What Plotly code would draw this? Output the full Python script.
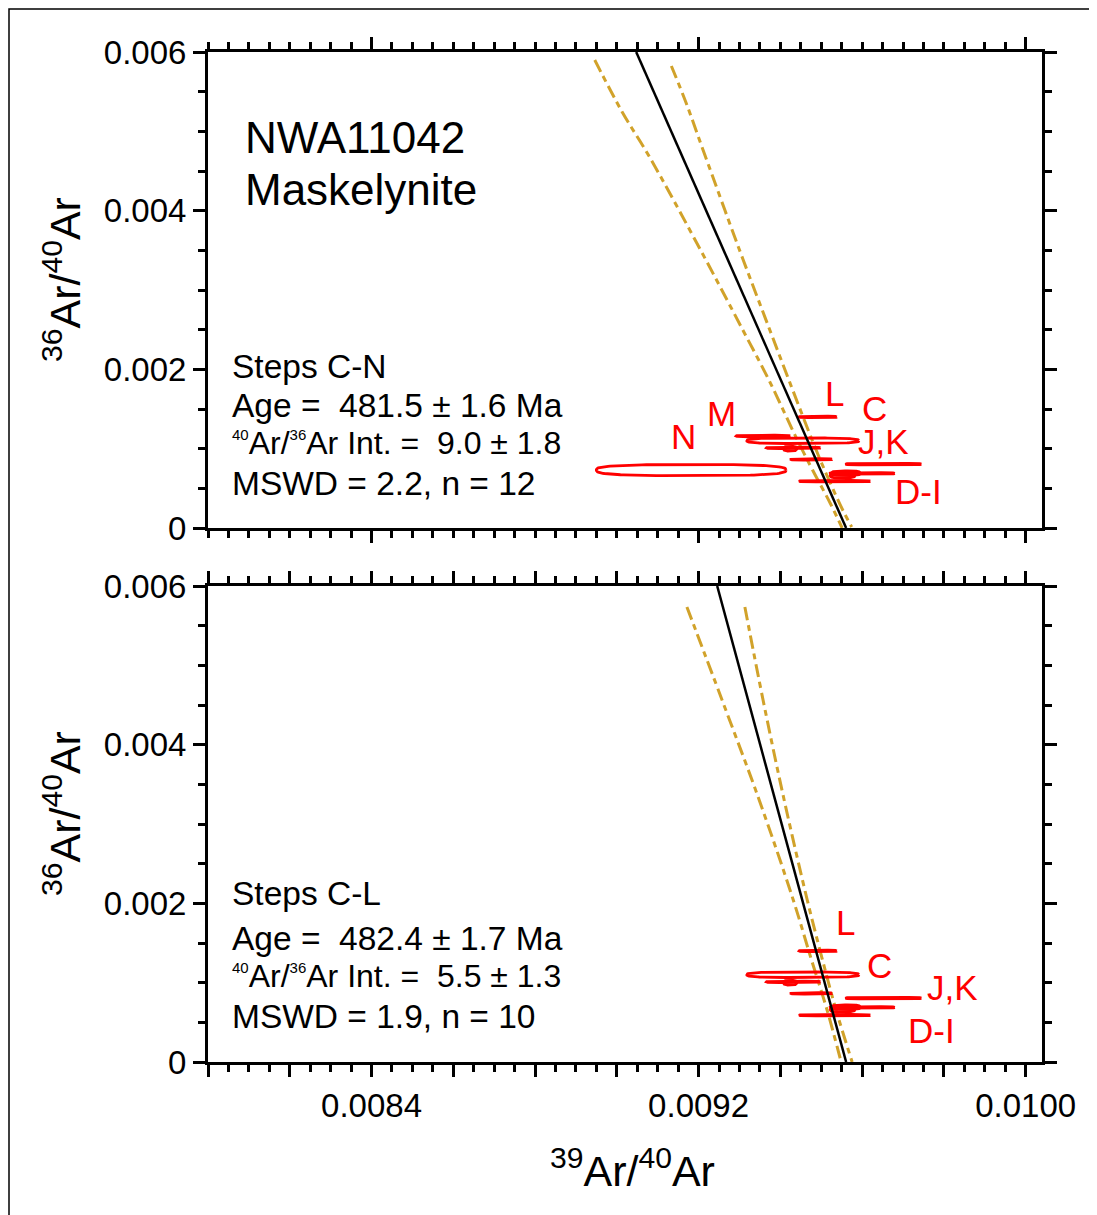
import numpy as np
import plotly.graph_objects as go

# ---------------- data ----------------
steps = ["C", "D", "E", "F", "G", "H", "I", "J", "K", "L", "M", "N"]
ell_x = [0.009455, 0.009560, 0.009552, 0.009533, 0.009600, 0.009476,
         0.009424, 0.009432, 0.009652, 0.009492, 0.009358, 0.009182]
ell_sx = [0.000137, 0.000035, 0.000030, 0.000087, 0.000080, 0.000050,
          0.000016, 0.000066, 0.000093, 0.000046, 0.000066, 0.000232]
ell_y = [0.001100, 0.000690, 0.000660, 0.000590, 0.000688, 0.000865,
         0.001000, 0.001010, 0.000805, 0.001400, 0.001160, 0.000730]
ell_sy = [0.000035, 0.000030, 0.000030, 0.000010, 0.000010, 0.000010,
          0.000030, 0.000010, 0.000010, 0.000010, 0.000010, 0.000070]
steps_bottom = ["C", "D", "E", "F", "G", "H", "I", "J", "K", "L"]

# isochron fit lines (endpoints)
fit1_x = [0.0090474, 0.0095609]
fit1_y = [0.0060, 0.0]
fit2_x = [0.0092455, 0.0095609]
fit2_y = [0.0060, 0.0]

# error envelopes
env1L_x = [0.0089460, 0.0090131, 0.0090799, 0.0092048, 0.0093082, 0.0093719,
           0.0094416, 0.0094788, 0.0095217, 0.0095511]
env1L_y = [0.005899, 0.005244, 0.004677, 0.003504, 0.002496, 0.001866,
           0.001109, 0.000731, 0.000315, 0.0]
env1R_x = [0.0091334, 0.0091696, 0.0092136, 0.0093001, 0.0093742, 0.0094208,
           0.0094845, 0.0095189, 0.0095525, 0.0095745]
env1R_y = [0.005824, 0.005357, 0.004727, 0.003504, 0.002496, 0.001866,
           0.001021, 0.000605, 0.000227, 0.0000126]
env2L_x = [0.0091714, 0.0092574, 0.0093482, 0.0094316, 0.0094762, 0.0095143, 0.0095487]
env2L_y = [0.005735, 0.004563, 0.003303, 0.002042, 0.001286, 0.000655, 0.0]
env2R_x = [0.0093132, 0.0093577, 0.0094093, 0.0094658, 0.0095031, 0.0095363, 0.0095756]
env2R_y = [0.005735, 0.004563, 0.003303, 0.002042, 0.001286, 0.000655, 0.0]

# point labels
lab1_text = ["L", "C", "J,K", "D-I", "N", "M"]
lab1_x = [0.0095315, 0.0096293, 0.0096513, 0.0097369, 0.0091623, 0.0092553]
lab1_y = [0.0017017, 0.0015126, 0.0010966, 0.0004664, 0.0011597, 0.0014496]
lab2_text = ["L", "C", "J,K", "D-I"]
lab2_x = [0.0095584, 0.0096416, 0.0098200, 0.0097687]
lab2_y = [0.0017647, 0.0012227, 0.000945, 0.000403]

# ticks
x_tick_vals = [0.0080, 0.0082, 0.0084, 0.0086, 0.0088, 0.0090,
               0.0092, 0.0094, 0.0096, 0.0098, 0.0100]
x_tick_text = ["", "", "0.0084", "", "", "", "0.0092", "", "", "", "0.0100"]
y_tick_vals = [0, 0.002, 0.004, 0.006]
y_tick_text = ["0", "0.002", "0.004", "0.006"]

SUP = "<sup><span style='font-size:15px'>{}</span></sup>"
INT = "<span style='font-size:32px'>{}</span>"
stats_top = ["Steps C-N",
             "Age =  481.5 ± 1.6 Ma",
             SUP.format("40") + INT.format("Ar/") + SUP.format("36")
             + INT.format("Ar Int. =  9.0 ± 1.8"),
             "MSWD = 2.2, n = 12"]
stats_bot = ["Steps C-L",
             "Age =  482.4 ± 1.7 Ma",
             SUP.format("40") + INT.format("Ar/") + SUP.format("36")
             + INT.format("Ar Int. =  5.5 ± 1.3"),
             "MSWD = 1.9, n = 10"]

# ---------------- figure ----------------
FONT = "Liberation Sans, Arial, sans-serif"
RED = "#FF0000"
GOLD = "#D1A22A"

OFF = 8  # page offset of the figure (body margin)
W, H = 1097, 1215
ML, MT = 208 - OFF, 52 - OFF
MR = W - (1042 - OFF)
MB = H - (1062 - OFF)
PW = W - ML - MR
PH = H - MT - MB


def px_x(p):
    return (p - OFF - ML) / PW


def px_y(p):
    return (H - MB - (p - OFF)) / PH


def ellipse_path(names, n=3.0):
    # superellipse outline (flat-sided, tapered like the original symbols)
    t = np.linspace(0, 2 * np.pi, 120)
    c, s = np.cos(t), np.sin(t)
    cx = np.sign(c) * np.abs(c) ** (2 / n)
    sy_ = np.sign(s) * np.abs(s) ** (2 / n)
    xs, ys = [], []
    for name in names:
        i = steps.index(name)
        xs += list(ell_x[i] + ell_sx[i] * cx) + [None]
        ys += list(ell_y[i] + ell_sy[i] * sy_) + [None]
    return xs, ys


fig = go.Figure()

for (xa, ya, names, fx, fy, lx, ly, rx, ry) in [
    ("x", "y", steps, fit1_x, fit1_y, env1L_x, env1L_y, env1R_x, env1R_y),
    ("x2", "y2", steps_bottom, fit2_x, fit2_y, env2L_x, env2L_y, env2R_x, env2R_y),
]:
    for ex, ey in [(lx, ly), (rx, ry)]:
        fig.add_trace(go.Scatter(x=ex, y=ey, mode="lines", xaxis=xa, yaxis=ya,
                                 line=dict(color=GOLD, width=3, dash="13px,5px,6px,5px",
                                           shape="spline"),
                                 showlegend=False, hoverinfo="skip"))
    exs, eys = ellipse_path(names)
    fig.add_trace(go.Scatter(x=exs, y=eys, mode="lines", xaxis=xa, yaxis=ya,
                             line=dict(color=RED, width=2.8),
                             showlegend=False, hoverinfo="skip"))
    fig.add_trace(go.Scatter(x=fx, y=fy, mode="lines", xaxis=xa, yaxis=ya,
                             line=dict(color="black", width=2.5),
                             showlegend=False, hoverinfo="skip"))

xcommon = dict(range=[0.0080, 0.01004], showgrid=False, zeroline=False,
               showline=True, linecolor="black", linewidth=3, mirror="ticks",
               ticks="outside", ticklen=12, tickwidth=2.5, tickcolor="black",
               tickvals=x_tick_vals, ticktext=x_tick_text,
               minor=dict(ticks="outside", ticklen=7, tickwidth=2.5,
                          tickcolor="black", dtick=0.00005, tick0=0.008,
                          showgrid=False),
               tickfont=dict(family=FONT, size=33, color="black"))
ycommon = dict(range=[0, 0.006], showgrid=False, zeroline=False,
               showline=True, linecolor="black", linewidth=3, mirror="ticks",
               ticks="outside", ticklen=12, tickwidth=2.5, tickcolor="black",
               tickvals=y_tick_vals, ticktext=y_tick_text,
               minor=dict(ticks="outside", ticklen=7, tickwidth=2.5,
                          tickcolor="black", dtick=0.0005, tick0=0,
                          showgrid=False),
               tickfont=dict(family=FONT, size=33, color="black"))

top_dom = [1 - 476 / PH, 1]
bot_dom = [0, 476 / PH]

fig.update_layout(
    width=W, height=H,
    margin=dict(l=ML, r=MR, t=MT, b=MB),
    paper_bgcolor="white", plot_bgcolor="white",
    font=dict(family=FONT, color="black"),
    xaxis=dict(xcommon, anchor="y", showticklabels=False),
    yaxis=dict(ycommon, anchor="x", domain=top_dom),
    xaxis2=dict(xcommon, anchor="y2", ticklabelstandoff=0),
    yaxis2=dict(ycommon, anchor="x2", domain=bot_dom),
)
fig.update_yaxes(ticklabelstandoff=0)

ann = []
# point labels
for t, x, y in zip(lab1_text, lab1_x, lab1_y):
    ann.append(dict(text=t, x=x, y=y, xref="x", yref="y", showarrow=False,
                    font=dict(family=FONT, size=35, color=RED)))
for t, x, y in zip(lab2_text, lab2_x, lab2_y):
    ann.append(dict(text=t, x=x, y=y, xref="x2", yref="y2", showarrow=False,
                    font=dict(family=FONT, size=35, color=RED)))

# title block
for t, py in [("NWA11042", 138), ("Maskelynite", 189)]:
    ann.append(dict(text=t, x=px_x(243), y=px_y(py), xref="paper", yref="paper",
                    xanchor="left", yanchor="middle", showarrow=False,
                    font=dict(family=FONT, size=44, color="black")))
for t, py in zip(stats_top, [366, 405, 443, 483]):
    ann.append(dict(text=t, x=px_x(230), y=px_y(py), xref="paper", yref="paper",
                    xanchor="left", yanchor="middle", showarrow=False,
                    font=dict(family=FONT, size=33.5, color="black")))
for t, py in zip(stats_bot, [893, 938, 976, 1016]):
    ann.append(dict(text=t, x=px_x(230), y=px_y(py), xref="paper", yref="paper",
                    xanchor="left", yanchor="middle", showarrow=False,
                    font=dict(family=FONT, size=33.5, color="black")))

# axis titles
for py in [280, 814]:
    ann.append(dict(text="<sup>36</sup>Ar/<sup>40</sup>Ar", x=px_x(62), y=px_y(py),
                    xref="paper", yref="paper", textangle=-90, showarrow=False,
                    xanchor="center", yanchor="middle",
                    font=dict(family=FONT, size=43, color="black")))
ann.append(dict(text="<sup>39</sup>Ar/<sup>40</sup>Ar", x=px_x(632), y=px_y(1168),
                xref="paper", yref="paper", showarrow=False,
                xanchor="center", yanchor="middle",
                font=dict(family=FONT, size=43, color="black")))

fig.update_layout(annotations=ann)

# outer frame (figure edge)
fig.add_shape(type="rect", xref="paper", yref="paper",
              x0=(1 - ML) / PW, x1=(W + 10 - ML) / PW,
              y0=-(MB + 10) / PH, y1=(PH + MT - 1) / PH,
              line=dict(color="black", width=1.5), layer="below")

fig.write_html("out.html")
